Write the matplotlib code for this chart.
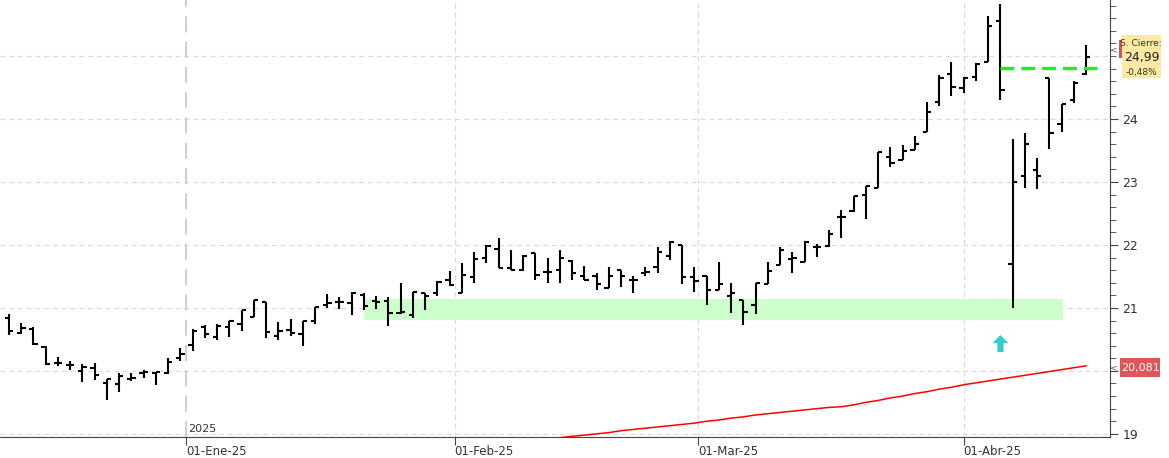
import matplotlib
matplotlib.use("Agg")
import matplotlib.pyplot as plt
import numpy as np

opens = [20.84,20.60,20.66,20.38,20.13,20.10,20.00,20.05,19.80,19.79,19.87,19.96,19.97,19.97,20.21,20.41,20.70,20.54,20.70,20.74,20.85,21.10,20.56,20.65,20.58,20.79,21.05,21.10,21.08,21.20,21.11,21.11,20.92,20.89,21.23,21.24,
         21.44,21.24,21.49,21.79,21.93,21.63,21.61,21.87,21.57,21.61,21.75,21.50,21.51,21.31,21.61,21.45,21.56,21.65,21.82,22.00,21.49,21.50,21.29,21.19,21.13,21.05,21.38,21.68,21.77,21.73,21.97,21.98,
         22.44,22.54,22.79,22.91,23.39,23.35,23.51,
         23.80,24.27,24.71,24.49,24.66,24.90,25.56,21.70,23.10,23.19,24.65,23.92,24.30,24.71]
highs = [20.90,20.76,20.69,20.40,20.22,20.15,20.11,20.13,19.87,19.96,19.97,20.01,19.99,20.20,20.37,20.67,20.73,20.74,20.80,20.97,21.13,21.10,20.78,20.82,20.79,21.01,21.22,21.18,21.26,21.23,21.19,21.18,21.40,21.26,21.24,21.42,
         21.58,21.71,21.89,22.00,22.11,21.92,21.84,21.88,21.80,21.92,21.76,21.67,21.55,21.65,21.61,21.51,21.65,21.97,22.07,22.00,21.65,21.51,21.73,21.39,21.13,21.39,21.73,21.97,21.89,22.07,22.02,22.23,
         22.56,22.78,22.93,23.47,23.55,23.59,23.73,
         24.27,24.70,24.91,24.67,24.89,25.63,25.83,23.69,23.77,23.38,24.65,24.24,24.61,25.17]
lows = [20.57,20.58,20.41,20.09,20.07,20.01,19.82,19.85,19.54,19.66,19.84,19.88,19.78,19.95,20.15,20.31,20.52,20.49,20.54,20.64,20.85,20.53,20.49,20.55,20.39,20.74,21.00,20.99,20.89,20.96,20.98,20.72,20.91,20.84,20.96,21.19,
        21.35,21.23,21.40,21.72,21.63,21.61,21.58,21.45,21.40,21.40,21.45,21.44,21.29,21.31,21.34,21.23,21.50,21.56,21.76,21.38,21.26,21.05,21.29,20.92,20.73,20.91,21.38,21.68,21.56,21.73,21.81,21.97,
        22.11,22.53,22.41,22.90,23.23,23.35,23.51,
        23.80,24.21,24.36,24.41,24.61,24.90,24.30,21.00,22.90,22.89,23.53,23.79,24.26,24.70]
closes = [20.64,20.68,20.43,20.11,20.13,20.10,20.06,19.93,19.87,19.92,19.88,19.99,19.99,20.14,20.27,20.64,20.58,20.71,20.79,20.96,21.12,20.61,20.63,20.60,20.79,21.01,21.08,21.10,21.23,21.03,21.10,20.92,20.93,21.26,21.19,21.41,
          21.36,21.53,21.78,21.99,21.63,21.61,21.83,21.53,21.57,21.79,21.55,21.44,21.38,21.50,21.50,21.44,21.57,21.89,22.05,21.49,21.43,21.29,21.38,21.23,20.94,21.39,21.59,21.92,21.80,22.04,21.96,22.18,
          22.45,22.78,22.93,23.47,23.30,23.49,23.61,
          24.11,24.65,24.51,24.65,24.87,25.47,24.46,23.00,23.61,23.10,23.78,24.24,24.57,24.99]

ma_start = 45
ma_values = [18.94,18.96,18.98,19.00,19.02,19.05,19.07,19.09,19.11,19.13,19.15,19.17,19.20,19.22,19.25,19.27,19.30,19.32,19.34,19.36,
             19.38,19.40,19.42,19.43,19.46,19.50,19.53,19.57,19.60,19.64,19.67,19.71,19.74,19.78,19.81,19.84,19.87,19.90,19.93,19.96,
             19.99,20.02,20.05,20.08]

date_ticks = [14.5, 36.4, 56.3, 78.0]
date_labels = ["01-Ene-25", "01-Feb-25", "01-Mar-25", "01-Abr-25"]
y_ticks = [19, 20, 21, 22, 23, 24]
y_tick_labels = ["19", "", "21", "22", "23", "24"]

last_close_label = "24,99"
last_change_label = "-0,48%"
ma_label = "20,081"

fig = plt.figure(figsize=(11.69, 4.58), dpi=100)
fig.patch.set_facecolor("white")
ax = fig.add_axes([0, 21/458, 1110/1169, 437/458])
ax.set_xlim(-0.735, 89.95)
ax.set_ylim(18.95, 25.89)

for y in range(19, 26):
    ax.axhline(y, color="#dcdcdc", lw=0.9, ls=(0, (4, 3)), zorder=0)
for x in date_ticks[1:]:
    ax.axvline(x, color="#dcdcdc", lw=0.9, ls=(0, (4, 3)), zorder=0)
ax.axvline(date_ticks[0], color="#cccccc", lw=1.3, ls=(0, (9, 5)), zorder=0)

ax.fill_between([29.0, 86.1], 20.81, 21.14, color="#ccffcc", zorder=1, lw=0)

idx = np.arange(len(closes))
ax.vlines(idx, lows, highs, color="black", lw=1.5, zorder=3)
ax.hlines(opens, idx - 0.35, idx, color="black", lw=1.5, zorder=3)
ax.hlines(closes, idx, idx + 0.35, color="black", lw=1.5, zorder=3)

ax.plot(np.arange(ma_start, ma_start + len(ma_values)), ma_values, color="red", lw=1.1, zorder=2)

ax.plot([81, 88.9], [24.81, 24.81], color="#22ee22", lw=2.5, ls=(0, (4, 2)), zorder=4)

ax.arrow(81.0, 20.30, 0, 0.14, width=0.5, head_width=1.3, head_length=0.13,
         length_includes_head=False, color="#33cccc", lw=0, zorder=4)

ax.text(date_ticks[0] + 0.1, 19.0, "2025", fontsize=8, color="#333333", va="bottom", ha="left")

for s in ["top", "left"]:
    ax.spines[s].set_visible(False)
ax.spines["right"].set_color("#444444")
ax.spines["bottom"].set_color("#444444")
ax.yaxis.tick_right()
ax.set_yticks(y_ticks)
ax.set_yticklabels(y_tick_labels, fontsize=9, color="#333333")
ax.set_yticks(np.arange(19, 25.9, 0.2), minor=True)
ax.tick_params(axis="y", which="major", length=6, color="#444444", pad=3)
ax.tick_params(axis="y", which="minor", length=4, color="#444444")
ax.set_xticks(date_ticks)
ax.set_xticklabels(date_labels, fontsize=8.5, color="#333333", ha="left")
ax.tick_params(axis="x", length=6, color="#444444", pad=0)

fig.patches.append(plt.Rectangle((1122/1169, 1 - 78/458), 39/1169, 43/458, transform=fig.transFigure,
                                 facecolor="#fde9a0", edgecolor="none"))
fig.patches.append(plt.Rectangle((1119/1169, 1 - 58/458), 3/1169, 18/458, transform=fig.transFigure,
                                 facecolor="#e05050", edgecolor="none"))
fig.text(1141/1169, 1 - 43/458, "S. Cierre:", fontsize=6.5, ha="center", va="center", color="#333333")
fig.text(1124/1169, 1 - 57/458, last_close_label, fontsize=9, ha="left", va="center", color="#222222")
fig.text(1141/1169, 1 - 72/458, last_change_label, fontsize=6.5, ha="center", va="center", color="#333333")
fig.patches.append(plt.Rectangle((1120/1169, 1 - 377/458), 40/1169, 19/458, transform=fig.transFigure,
                                 facecolor="#e05555", edgecolor="none"))
fig.text(1141/1169, 1 - 368/458, ma_label, fontsize=8, ha="center", va="center", color="white")
fig.text(1110/1169, 1 - 368/458, "<", fontsize=6.5, ha="left", va="center", color="#555555")
fig.text(1110/1169, 1 - 50/458, "<", fontsize=6.5, ha="left", va="center", color="#555555")

fig.savefig("out.png", dpi=100)
